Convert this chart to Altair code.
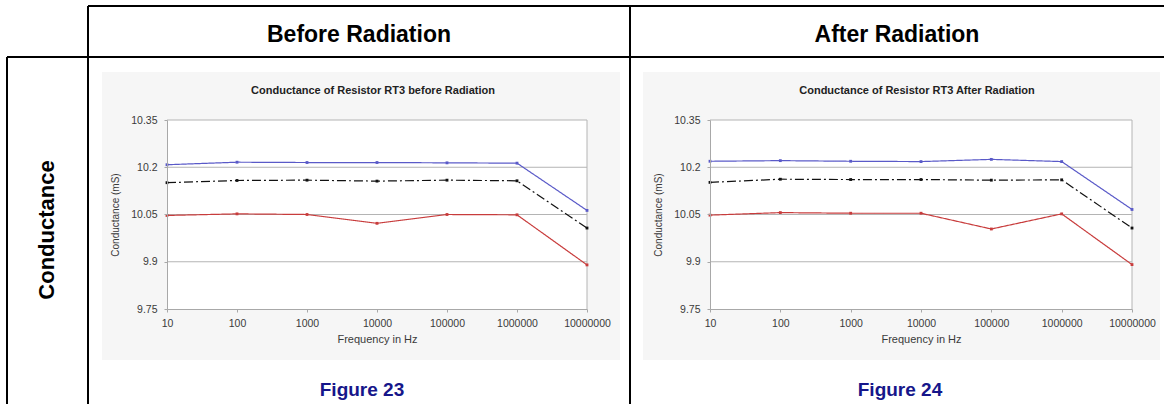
import altair as alt
import pandas as pd

# ---------------- data ----------------
freq_labels = ["10", "100", "1000", "10000", "100000", "1000000", "10000000"]
series_names = ["blue", "black", "red"]
series_colors = ["#5a5ac8", "#111111", "#c83c3c"]

before_blue = [10.208, 10.216, 10.215, 10.215, 10.214, 10.213, 10.063]
before_black = [10.151, 10.158, 10.159, 10.156, 10.159, 10.157, 10.007]
before_red = [10.047, 10.052, 10.050, 10.022, 10.050, 10.049, 9.890]

after_blue = [10.219, 10.221, 10.219, 10.218, 10.225, 10.218, 10.066]
after_black = [10.152, 10.162, 10.161, 10.161, 10.159, 10.160, 10.007]
after_red = [10.048, 10.056, 10.054, 10.054, 10.004, 10.052, 9.891]

y_ticks = [9.75, 9.9, 10.05, 10.2, 10.35]
grid_values = [9.9, 10.05, 10.2, 10.35]
y_domain = [9.75, 10.35]

W, H = 1164, 404
FONT = "Liberation Sans"
one = pd.DataFrame({"k": [0]})


def long_df(blue, black, red):
    rows = []
    for name, vals in zip(series_names, [blue, black, red]):
        for f, v in zip(freq_labels, vals):
            rows.append({"freq": f, "value": v, "series": name})
    return pd.DataFrame(rows)


def panel(title, blue, black, red, x0, x1, ytop, ybot, bgx0, bgx1):
    xs = alt.Scale(type="point", domain=freq_labels, range=[x0, x1], padding=0)
    ys = alt.Scale(domain=y_domain, range=[ybot, ytop], zero=False, nice=False)
    xaxis = alt.Axis(
        orient="bottom", offset=ybot - H, title="Frequency in Hz", labelAngle=0,
        labelFont=FONT, labelFontSize=10.5, labelColor="#3a3a3a", labelOverlap=False,
        titleFont=FONT, titleFontSize=11, titleFontWeight="normal", titleColor="#3a3a3a",
        titlePadding=5, domainColor="#a8a8a8", tickColor="#a8a8a8", tickSize=3,
        labelPadding=6, grid=False, zindex=1,
    )
    yaxis = alt.Axis(
        orient="left", offset=-x0, values=y_ticks, labelExpr="'' + datum.value",
        title="Conductance (mS)",
        labelFont=FONT, labelFontSize=10.5, labelColor="#3a3a3a",
        titleFont=FONT, titleFontSize=10, titleFontWeight="normal", titleColor="#3a3a3a",
        titlePadding=10, domainColor="#a8a8a8", tickColor="#a8a8a8", tickSize=3,
        labelPadding=7, grid=False, zindex=1,
    )
    df = long_df(blue, black, red)
    frame = pd.DataFrame({"xa": [freq_labels[0]], "xb": [freq_labels[-1]],
                          "ya": [y_domain[0]], "yb": [y_domain[1]]})
    grid = pd.DataFrame({"xa": [freq_labels[0]] * len(grid_values),
                         "xb": [freq_labels[-1]] * len(grid_values),
                         "gy": grid_values})

    panel_bg = alt.Chart(one).mark_rect(color="#f6f6f6").encode(
        x=alt.value(bgx0), x2=alt.value(bgx1), y=alt.value(72), y2=alt.value(360))

    plot_bg = alt.Chart(frame).mark_rect(color="white").encode(
        x=alt.X("xa:N", scale=xs, axis=xaxis), x2="xb",
        y=alt.Y("ya:Q", scale=ys, axis=yaxis), y2="yb")

    grid_rules = alt.Chart(grid).mark_rule(color="#b4b4b4", strokeWidth=1).encode(
        x=alt.X("xa:N", scale=xs, axis=xaxis), x2="xb",
        y=alt.Y("gy:Q", scale=ys, axis=yaxis))

    right_rule = alt.Chart(frame).mark_rule(color="#b4b4b4", strokeWidth=1).encode(
        x=alt.X("xb:N", scale=xs, axis=xaxis),
        y=alt.Y("ya:Q", scale=ys, axis=yaxis), y2="yb")

    color = alt.Color("series:N", scale=alt.Scale(domain=series_names, range=series_colors), legend=None)
    dash = alt.StrokeDash("series:N", scale=alt.Scale(domain=series_names,
                                                     range=[[1, 0], [9, 3, 2, 3], [1, 0]]), legend=None)

    lines = alt.Chart(df).mark_line(strokeWidth=1.2).encode(
        x=alt.X("freq:N", scale=xs, axis=xaxis, sort=freq_labels),
        y=alt.Y("value:Q", scale=ys, axis=yaxis),
        color=color, strokeDash=dash, detail="series:N")

    points = alt.Chart(df).mark_point(shape="square", filled=True, size=8, opacity=1).encode(
        x=alt.X("freq:N", scale=xs, axis=xaxis, sort=freq_labels),
        y=alt.Y("value:Q", scale=ys, axis=yaxis),
        color=color)

    title_txt = alt.Chart(one).mark_text(
        text=title, font=FONT, fontSize=11, fontWeight="bold", color="#222222",
        align="center", baseline="middle").encode(
        x=alt.value((x0 + x1) / 2 - 4), y=alt.value(91))

    return alt.layer(panel_bg, plot_bg, grid_rules, right_rule, lines, points, title_txt)


left = panel("Conductance of Resistor RT3 before Radiation",
             before_blue, before_black, before_red, 167, 587, 120, 309, 102, 620)
right = panel("Conductance of Resistor RT3 After Radiation",
              after_blue, after_black, after_red, 710, 1132, 120, 309, 643, 1160)

# ---------------- table decoration ----------------
def hline(x1, x2, y):
    return alt.Chart(one).mark_rule(color="black", strokeWidth=2).encode(
        x=alt.value(x1), x2=alt.value(x2), y=alt.value(y), y2=alt.value(y))


def vline(x, y1, y2):
    return alt.Chart(one).mark_rule(color="black", strokeWidth=2).encode(
        x=alt.value(x), x2=alt.value(x), y=alt.value(y1), y2=alt.value(y2))


def label(text, x, y, size, color="black", angle=0):
    return alt.Chart(one).mark_text(
        text=text, font=FONT, fontSize=size, fontWeight="bold", color=color,
        align="center", baseline="middle", angle=angle).encode(
        x=alt.value(x), y=alt.value(y))


decor = [
    hline(88, W, 6), hline(7, W, 57),
    vline(7, 57, H), vline(88, 6, H), vline(630, 6, H),
    label("Before Radiation", 359, 35, 23),
    label("After Radiation", 897, 35, 23),
    label("Conductance", 47, 230, 22, angle=270),
    label("Figure 23", 362, 390, 19, color="#16168a"),
    label("Figure 24", 900, 390, 19, color="#16168a"),
]

chart = alt.layer(left, right, *decor).resolve_scale(
    x="independent", y="independent"
).properties(
    width=W, height=H, padding=0, autosize=alt.AutoSizeParams(type="none"),
    background="white"
).configure_view(stroke=None)

chart.save("out.html", embed_options={"renderer": "svg", "actions": False})
